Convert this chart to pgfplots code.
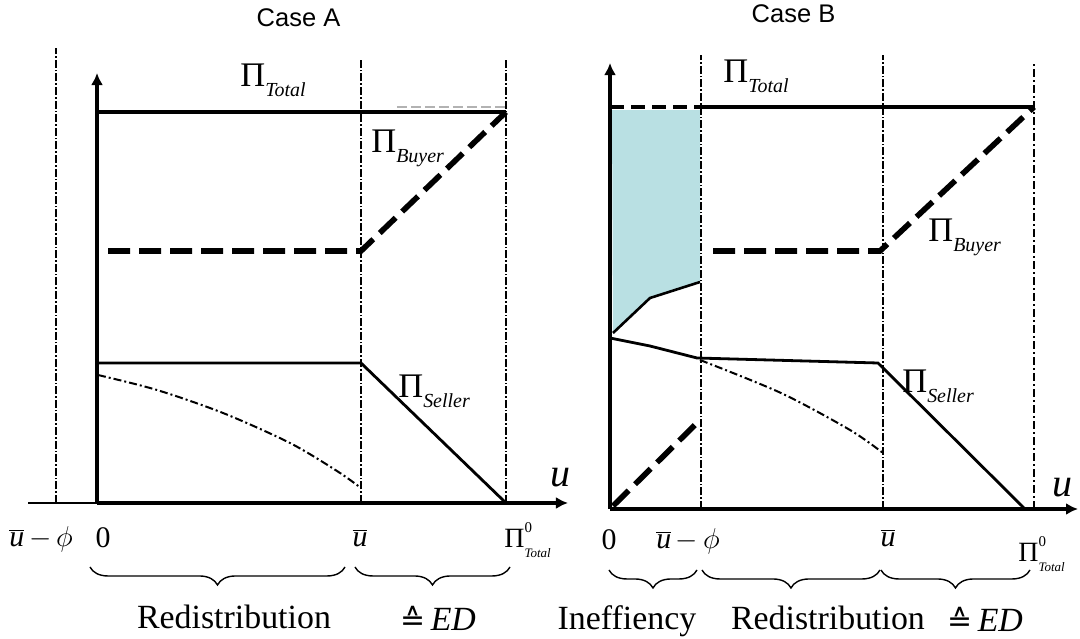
\documentclass[border=0pt]{standalone}
\usepackage{pgfplots}
\pgfplotsset{compat=1.18}
\usetikzlibrary{arrows.meta,decorations.pathreplacing}
\usepackage{fontspec}
\setmainfont{Liberation Serif}
\newfontfamily\sansf{Liberation Sans}
\newfontfamily\djv{DejaVu Sans}
\definecolor{shade}{HTML}{B9E0E3}
\newcommand\fs[1]{\fontsize{#1}{#1}\selectfont}
\newcommand\PiLab[1]{{\fs{17.3}Π}\raisebox{-5bp}{\fs{10}\itshape #1}}
\newcommand\PiZero{{\fs{14}Π}\makebox[0pt][l]{\raisebox{7.5bp}{\fs{7.5}0}}\raisebox{-5bp}{\fs{6.5}\itshape Total}}
\newcommand\ub{\ensuremath{\overline{\mbox{\itshape u}}}}
\newcommand\eqED{{\djv\fs{15}≙}\,{\itshape ED}}
\tikzset{
 vline/.style={black, line width=0.6bp, dash pattern=on 4bp off 1bp on 0.8bp off 1bp},
 buyer/.style={black, line width=2.8bp, dash pattern=on 11bp off 4.5bp},
 seller/.style={black, line width=1.4bp},
 total/.style={black, line width=2.2bp},
 ddot/.style={black, line width=1bp, dash pattern=on 4bp off 1.5bp on 1bp off 1.5bp},
}
\pgfplotsset{panel/.style={
  x=0.5bp, y=0.5bp, axis lines=middle, clip=false,
  xtick=\empty, ytick=\empty, xmin=0, ymin=0, anchor=south west,
  axis line style={line width=2bp, -{Latex[length=6bp,width=6bp]}},
}}
\begin{document}
\begin{tikzpicture}
\useasboundingbox (0,0) rectangle (540bp,319.5bp);
% ---------------- Case A ----------------
\begin{axis}[panel, at={(48.5bp,68bp)}, xmax=471, ymax=430]
 \addplot[black, line width=0.8bp] coordinates {(-69,0) (0,0)};
 \addplot[vline] coordinates {(-41,0) (-41,455)};
 \addplot[vline] coordinates {(264,0) (264,445)};
 \addplot[vline] coordinates {(409,0) (409,445)};
 \addplot[gray!60, line width=0.7bp, dash pattern=on 5bp off 2bp] coordinates {(300,396) (409,396)};
 \addplot[total] coordinates {(0,391) (409,391)};
 \addplot[buyer] coordinates {(11,252) (264,252) (409,391)};
 \addplot[seller] coordinates {(0,140) (264,140) (409,0)};
 \addplot[ddot, smooth] coordinates {(1,128) (60,113) (126,90) (193,60) (240,32) (264,15)};
\end{axis}
% ---------------- Case B ----------------
\begin{axis}[panel, at={(305bp,65bp)}, xmax=468, ymax=446]
 \addplot[fill=shade, draw=none] coordinates {(2,399) (90,399) (90,227) (40,211) (3,176)};
 \addplot[black, line width=1.3bp] coordinates {(3,176) (40,211) (90,227)};
 \addplot[vline] coordinates {(91,0) (91,454)};
 \addplot[vline] coordinates {(273,0) (273,454)};
 \addplot[black, line width=1.1bp, dash pattern=on 4bp off 1.5bp on 1bp off 1.5bp] coordinates {(424,0) (424,447)};
 \addplot[black, line width=2.2bp, dash pattern=on 7bp off 3.5bp] coordinates {(0,402) (91,402)};
 \addplot[total] coordinates {(91,402) (424,402)};
 \addplot[buyer] coordinates {(3,3) (90,89)};
 \addplot[buyer] coordinates {(103,258) (270,258) (424,402)};
 \addplot[seller] coordinates {(0,171) (40,163) (87,151) (268,146) (415,0)};
 \addplot[ddot, smooth] coordinates {(90,149) (171,116) (240,79) (273,56)};
\end{axis}
% ---------------- labels (pixel coordinates) ----------------
\begin{scope}[x=0.5bp,y=-0.5bp,shift={(0,319.5bp)}]
 \node[anchor=base, inner sep=0] at (295,27) {\sansf\fs{12.8} Case A};
 \node[anchor=base, inner sep=0] at (790,23) {\sansf\fs{12.8} Case B};
 % Pi labels
 \node[anchor=base west, inner sep=0] at (240,87) {\PiLab{Total}};
 \node[anchor=base west, inner sep=0] at (371,153) {\PiLab{Buyer}};
 \node[anchor=base west, inner sep=0] at (398,398) {\PiLab{Seller}};
 \node[anchor=base west, inner sep=0] at (723,83) {\PiLab{Total}};
 \node[anchor=base west, inner sep=0] at (928,242) {\PiLab{Buyer}};
 \node[anchor=base west, inner sep=0] at (902,393) {\PiLab{Seller}};
 % axis letters
 \node[anchor=base, inner sep=0] at (560,487) {\fs{20}\itshape u};
 \node[anchor=base, inner sep=0] at (1062,497) {\fs{20}\itshape u};
 % tick labels A
 \node[anchor=base, inner sep=0] at (41,547) {\fs{15}\ub$\,-\,\phi$};
 \node[anchor=base, inner sep=0] at (103,548) {\fs{15}0};
 \node[anchor=base, inner sep=0] at (360,547) {\fs{15}\ub};
 \node[anchor=base west, inner sep=0] at (504,548) {\PiZero};
 % tick labels B
 \node[anchor=base, inner sep=0] at (609,550) {\fs{15}0};
 \node[anchor=base, inner sep=0] at (688,549) {\fs{15}\ub$\,-\,\phi$};
 \node[anchor=base, inner sep=0] at (888,547) {\fs{15}\ub};
 \node[anchor=base west, inner sep=0] at (1018,562) {\PiZero};
 % braces
 \tikzset{br/.style={decorate, decoration={brace, mirror, amplitude=9bp}, line width=0.7bp}}
 \draw[br] (90,567) -- (345,567);
 \draw[br] (355,567) -- (510,567);
 \draw[br] (609,570) -- (697,570);
 \draw[br] (702,570) -- (880,570);
 \draw[br] (881,570) -- (1030,570);
 % bottom texts
 \node[anchor=base, inner sep=0] at (234,629) {\fs{17}Redistribution};
 \node[anchor=base, inner sep=0] at (438,631) {\fs{17}\eqED};
 \node[anchor=base, inner sep=0] at (627,630) {\fs{17}Ineffiency};
 \node[anchor=base, inner sep=0] at (828,630) {\fs{17}Redistribution};
 \node[anchor=base, inner sep=0] at (985,632) {\fs{17}\eqED};
\end{scope}
\end{tikzpicture}
\end{document}
